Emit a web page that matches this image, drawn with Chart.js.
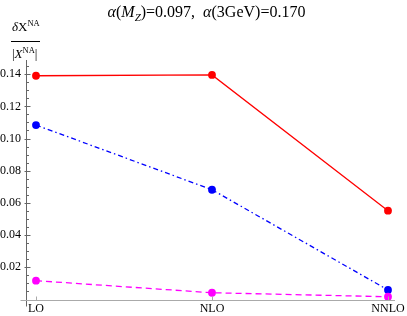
<!DOCTYPE html>
<html>
<head>
<meta charset="utf-8">
<script src="https://cdn.jsdelivr.net/npm/chart.js@4.4.0/dist/chart.umd.min.js"></script>
<style>
  html, body { margin: 0; padding: 0; background: #fff; }
  #wrap { width: 407px; height: 316px; position: relative; }
</style>
</head>
<body>
<div id="wrap"><canvas id="chart"></canvas></div>
<script>
const orders = ['LO', 'NLO', 'NNLO'];
const redValues = [0.1390, 0.1395, 0.0552];
const blueValues = [0.1084, 0.0682, 0.0059];
const magentaValues = [0.0117, 0.0042, 0.0017];
const yMajorTicks = [0.02, 0.04, 0.06, 0.08, 0.10, 0.12, 0.14];

const SERIF = '"Liberation Serif", "DejaVu Serif", serif';

function toPoints(values) {
    return values.map((v, i) => ({ x: i, y: v }));
}

// axes, inward ticks, title and the fraction label, Mathematica style
const decorations = {
    id: 'decorations',
    afterDraw(chart) {
        const ctx = chart.ctx;
        const xs = chart.scales.x;
        const ys = chart.scales.y;
        const area = chart.chartArea;
        const x0 = Math.round(ys.right) + 0.5;
        const y0 = Math.round(ys.getPixelForValue(0)) + 0.5;
        ctx.save();

        // y axis
        ctx.strokeStyle = '#666';
        ctx.lineWidth = 1;
        ctx.beginPath();
        ctx.moveTo(x0, area.top);
        ctx.lineTo(x0, y0 + 6);
        ctx.stroke();
        for (let v = 0.005; v <= ys.max; v += 0.005) {
            const major = Math.abs(v / 0.02 - Math.round(v / 0.02)) < 1e-6;
            const py = Math.round(ys.getPixelForValue(v)) + 0.5;
            ctx.beginPath();
            ctx.moveTo(major ? x0 - 2 : x0, py);
            ctx.lineTo(x0 + (major ? 4 : 2.5), py);
            ctx.stroke();
        }

        // x axis
        ctx.strokeStyle = '#aaa';
        ctx.beginPath();
        ctx.moveTo(x0 - 6, y0);
        ctx.lineTo(area.right, y0);
        ctx.stroke();
        orders.forEach((_, i) => {
            const px = Math.round(xs.getPixelForValue(i)) + 0.5;
            ctx.beginPath();
            ctx.moveTo(px, y0);
            ctx.lineTo(px, y0 - 4);
            ctx.stroke();
        });

        // title
        ctx.fillStyle = '#000';
        ctx.textBaseline = 'alphabetic';
        const big = '16px ' + SERIF;
        const bigI = 'italic 16px ' + SERIF;
        const sub = 'italic 11px ' + SERIF;
        const parts = [
            [bigI, 'α', 0], [big, '(', 0], [bigI, 'M', 0], [sub, 'Z', 4],
            [big, ')=0.097,  ', 0], [bigI, 'α', 0], [big, '(3GeV)=0.170', 0]
        ];
        let total = 0;
        parts.forEach(p => { ctx.font = p[0]; total += ctx.measureText(p[1]).width; });
        let tx = 206.5 - total / 2;
        parts.forEach(p => {
            ctx.font = p[0];
            ctx.fillText(p[1], tx, 16.5 + p[2]);
            tx += ctx.measureText(p[1]).width;
        });

        // y label: dX^NA / |X^NA|
        const f = '13px ' + SERIF;
        const fi = 'italic 13px ' + SERIF;
        const sup = '8.5px ' + SERIF;
        function run(items, x, base) {
            items.forEach(p => {
                ctx.font = p[0];
                ctx.fillText(p[1], x, base + p[2]);
                x += ctx.measureText(p[1]).width;
            });
        }
        run([[fi, 'δ', 0], [f, 'X', 0], [sup, 'NA', -5]], 12, 31);
        ctx.strokeStyle = '#000';
        ctx.lineWidth = 1;
        ctx.beginPath();
        ctx.moveTo(11, 41.5);
        ctx.lineTo(40, 41.5);
        ctx.stroke();
        run([[f, '|', 0], [fi, 'X', 0], [sup, 'NA', -5], [f, '|', 0]], 12, 58);

        ctx.restore();
    }
};

const dataset = (label, values, color, dash, order) => ({
    label,
    data: toPoints(values),
    borderColor: color,
    backgroundColor: color,
    borderWidth: 1.3,
    borderDash: dash,
    pointRadius: 3.9,
    pointHoverRadius: 3.9,
    pointBorderWidth: 0,
    pointBackgroundColor: color,
    tension: 0,
    clip: false,
    order
});

new Chart(document.getElementById('chart'), {
    type: 'line',
    data: {
        datasets: [
            dataset('red', redValues, '#ff0000', [], 2),
            dataset('blue', blueValues, '#0000ff', [5, 3, 1.5, 3], 1),
            dataset('magenta', magentaValues, '#ff00ff', [6, 4], 0)
        ]
    },
    options: {
        responsive: true,
        maintainAspectRatio: false,
        animation: false,
        events: [],
        layout: { padding: { left: 0, top: 60, right: 12, bottom: 0 } },
        plugins: {
            legend: { display: false },
            tooltip: { enabled: false }
        },
        scales: {
            x: {
                type: 'linear',
                min: -0.0568,
                max: 2.0398,
                afterFit(scale) { scale.height = 16.5; },
                afterBuildTicks(scale) {
                    scale.ticks = orders.map((_, i) => ({ value: i }));
                },
                ticks: {
                    autoSkip: false,
                    maxRotation: 0,
                    padding: 2,
                    color: '#000',
                    font: { family: SERIF, size: 12 },
                    callback: v => orders[v]
                },
                grid: { display: false, drawTicks: false },
                border: { display: false }
            },
            y: {
                min: 0,
                max: 0.1488,
                afterFit(scale) { scale.width = 26; },
                afterBuildTicks(scale) {
                    scale.ticks = yMajorTicks.map(v => ({ value: v }));
                },
                ticks: {
                    padding: 5,
                    color: '#000',
                    font: { family: SERIF, size: 12 },
                    callback: v => v.toFixed(2)
                },
                grid: { display: false, drawTicks: false },
                border: { display: false }
            }
        }
    },
    plugins: [decorations]
});
</script>
</body>
</html>
